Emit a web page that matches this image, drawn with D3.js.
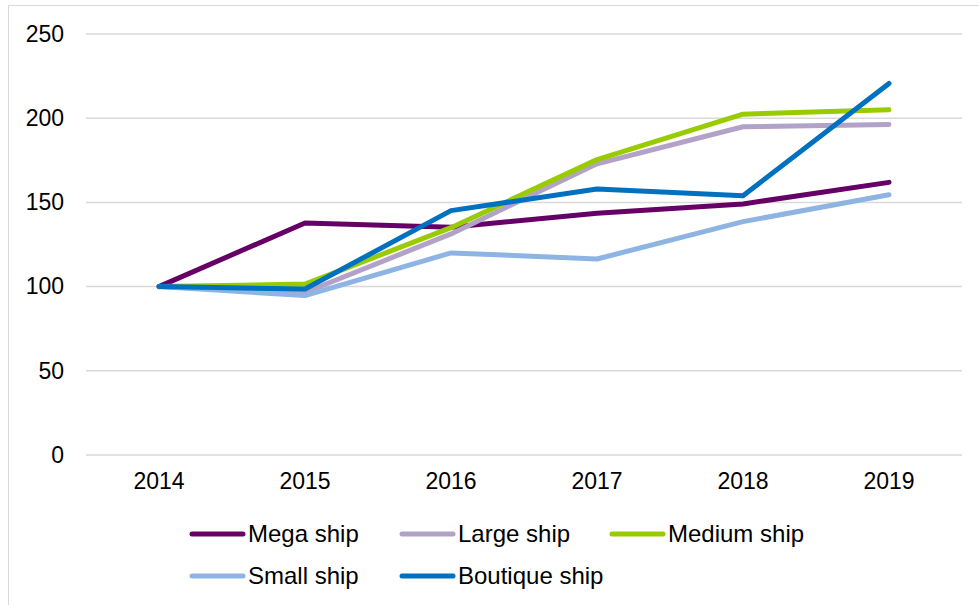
<!DOCTYPE html>
<html><head><meta charset="utf-8">
<script src="https://cdn.jsdelivr.net/npm/d3@7/dist/d3.min.js"></script>
<style>body{margin:0;background:#fff}svg{display:block}text{font-family:"Liberation Sans",Arial,sans-serif}</style>
</head><body>
<svg id="c" width="979" height="605"></svg>
<script>
const years = ["2014","2015","2016","2017","2018","2019"];
const megaShip = [100, 137.8, 135.3, 143.5, 149.1, 161.9];
const largeShip = [100, 96.5, 131.3, 172.9, 194.9, 196.3];
const mediumShip = [100, 101.5, 135, 175.4, 202.4, 205];
const smallShip = [100, 94.7, 120, 116.4, 138.6, 154.5];
const boutiqueShip = [100, 98.6, 145.1, 158, 154, 220.6];
const yTicks = [0, 50, 100, 150, 200, 250];
const seriesNames = ["Mega ship","Large ship","Medium ship","Small ship","Boutique ship"];
const colors = ["#660066","#b3a2c7","#99cc00","#8eb4e3","#0070c0"];

const series = [megaShip, largeShip, mediumShip, smallShip, boutiqueShip].map((v,i)=>({name:seriesNames[i], color:colors[i], values:v}));

const svg = d3.select("#c");
svg.append("rect").attr("x",8.5).attr("y",5.5).attr("width",980).attr("height",610)
  .attr("fill","none").attr("stroke","#d9d9d9").attr("stroke-width",1);

const x = d3.scaleBand().domain(years).range([86,962]);
const y = d3.scaleLinear().domain([0,250]).range([455,34]);

const grid = svg.append("g");
grid.selectAll("line").data(yTicks).join("line")
  .attr("x1",86).attr("x2",962).attr("y1",d=>y(d)).attr("y2",d=>y(d))
  .attr("stroke","#d9d9d9").attr("stroke-width",1.5);

const yAxis = svg.append("g").attr("transform","translate(86,0)")
  .call(d3.axisLeft(y).tickValues(yTicks).tickSize(0).tickPadding(22));
yAxis.select(".domain").remove();
yAxis.attr("font-size",23).attr("font-family","Liberation Sans, Arial, sans-serif");
yAxis.selectAll("text").attr("fill","#000");

const xAxis = svg.append("g").attr("transform","translate(0,455)")
  .call(d3.axisBottom(x).tickSize(0).tickPadding(18));
xAxis.select(".domain").remove();
xAxis.attr("font-size",23).attr("font-family","Liberation Sans, Arial, sans-serif");
xAxis.selectAll("text").attr("fill","#000");

const line = d3.line().x((d,i)=>x(years[i])+x.bandwidth()/2).y(d=>y(d));
svg.append("g").selectAll("path").data(series).join("path")
  .attr("d",d=>line(d.values)).attr("fill","none").attr("stroke",d=>d.color)
  .attr("stroke-width",5).attr("stroke-linecap","round").attr("stroke-linejoin","round");

const legPos = [[190,534],[400,534],[610,534],[190,576],[400,576]];
const leg = svg.append("g").selectAll("g").data(series).join("g")
  .attr("transform",(d,i)=>`translate(${legPos[i][0]},${legPos[i][1]})`);
leg.append("line").attr("x1",2).attr("x2",53).attr("y1",0).attr("y2",0)
  .attr("stroke",d=>d.color).attr("stroke-width",5).attr("stroke-linecap","round");
leg.append("text").attr("x",58).attr("y",8).attr("font-size",24)
  .attr("fill","#000").text(d=>d.name);
</script>
</body></html>
